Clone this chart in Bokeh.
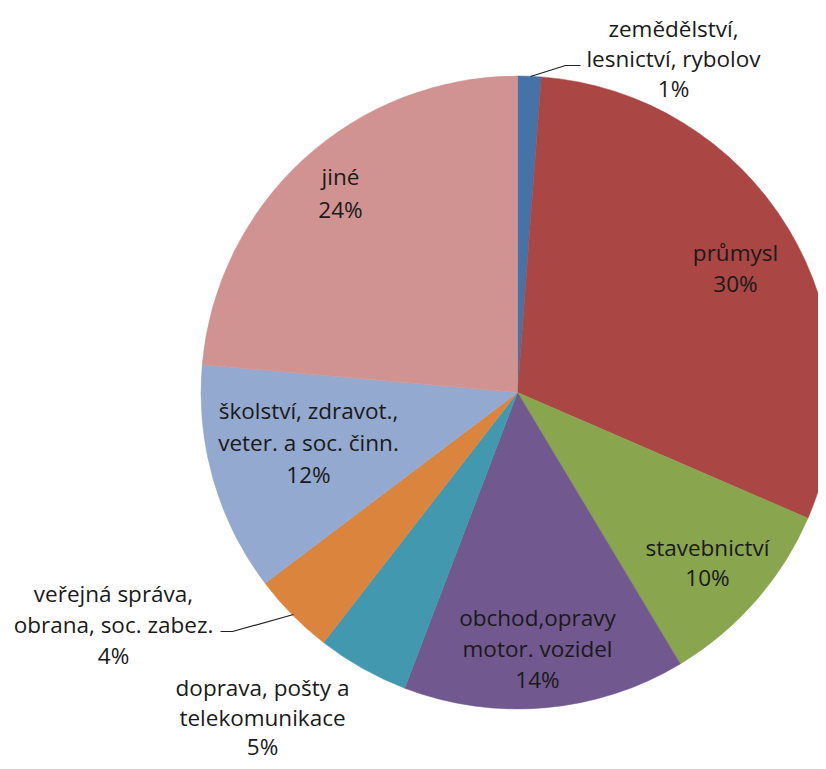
import math
from bokeh.plotting import figure
from bokeh.models import Range1d, ColumnDataSource
from bokeh.embed import file_html
from bokeh.resources import INLINE
from bokeh.core.properties import value

# ---- data ----
categories = [
    "zemědělství, lesnictví, rybolov",
    "průmysl",
    "stavebnictví",
    "obchod,opravy motor. vozidel",
    "doprava, pošty a telekomunikace",
    "veřejná správa, obrana, soc. zabez.",
    "školství, zdravot., veter. a soc. činn.",
    "jiné",
]
label_lines = [
    ["zemědělství,", "lesnictví, rybolov"],
    ["průmysl"],
    ["stavebnictví"],
    ["obchod,opravy", "motor. vozidel"],
    ["doprava, pošty a", "telekomunikace"],
    ["veřejná správa,", "obrana, soc. zabez."],
    ["školství, zdravot.,", "veter. a soc. činn."],
    ["jiné"],
]
shares = [1.2, 30.3, 9.9, 14.4, 4.7, 4.2, 11.7, 23.6]
colors = ["#4572A7", "#AA4643", "#89A54E", "#71588F", "#4198AF", "#DB843D", "#93A9CF", "#D19392"]

# ---- layout (picture pixel coordinates; y downward -> negated) ----
CX, CY, R = 517, 392, 316.5
label_pos = [(673, 28), (735, 252), (707, 547), (537, 617), (262, 687), (113, 593), (308, 410), (340, 176)]
label_gap = [30, 31, 30, 31, 29.5, 31, 32, 33]
leaders = [
    ([530, 565, 580], [76, 65, 65]),
    ([293, 232, 220], [614, 631, 631]),
]

total = sum(shares)
starts, ends = [], []
acc = 0.0
for s in shares:
    starts.append(math.pi / 2 - 2 * math.pi * acc / total)
    acc += s
    ends.append(math.pi / 2 - 2 * math.pi * acc / total)

p = figure(width=818, height=761, output_backend="svg", toolbar_location=None,
           x_range=Range1d(0, 818), y_range=Range1d(-761, 0), min_border=0)
p.axis.visible = False
p.grid.visible = False
p.outline_line_color = None
p.background_fill_color = "white"
p.border_fill_color = "white"

src = ColumnDataSource(dict(start=starts, end=ends, color=colors, cat=categories))
p.wedge(x=CX, y=-CY, radius=R, start_angle="start", end_angle="end",
        direction="clock", fill_color="color", line_color="color", line_width=0.5, source=src)

for xs, ys in leaders:
    p.line(xs, [-y for y in ys], line_color="#222222", line_width=1.2)

tx, ty, tt = [], [], []
for (lx, ly), gap, lines, s in zip(label_pos, label_gap, label_lines, shares):
    allines = lines + [f"{round(100 * s / total)}%"]
    for i, t in enumerate(allines):
        tx.append(lx)
        ty.append(-(ly + i * gap))
        tt.append(t)

p.text(x=tx, y=ty, text=tt, text_font=value("Open Sans"), text_font_size="22.5px",
       text_color="#1a1a1a", text_align="center", text_baseline="middle")

open("out.html", "w").write(file_html(p, INLINE))
